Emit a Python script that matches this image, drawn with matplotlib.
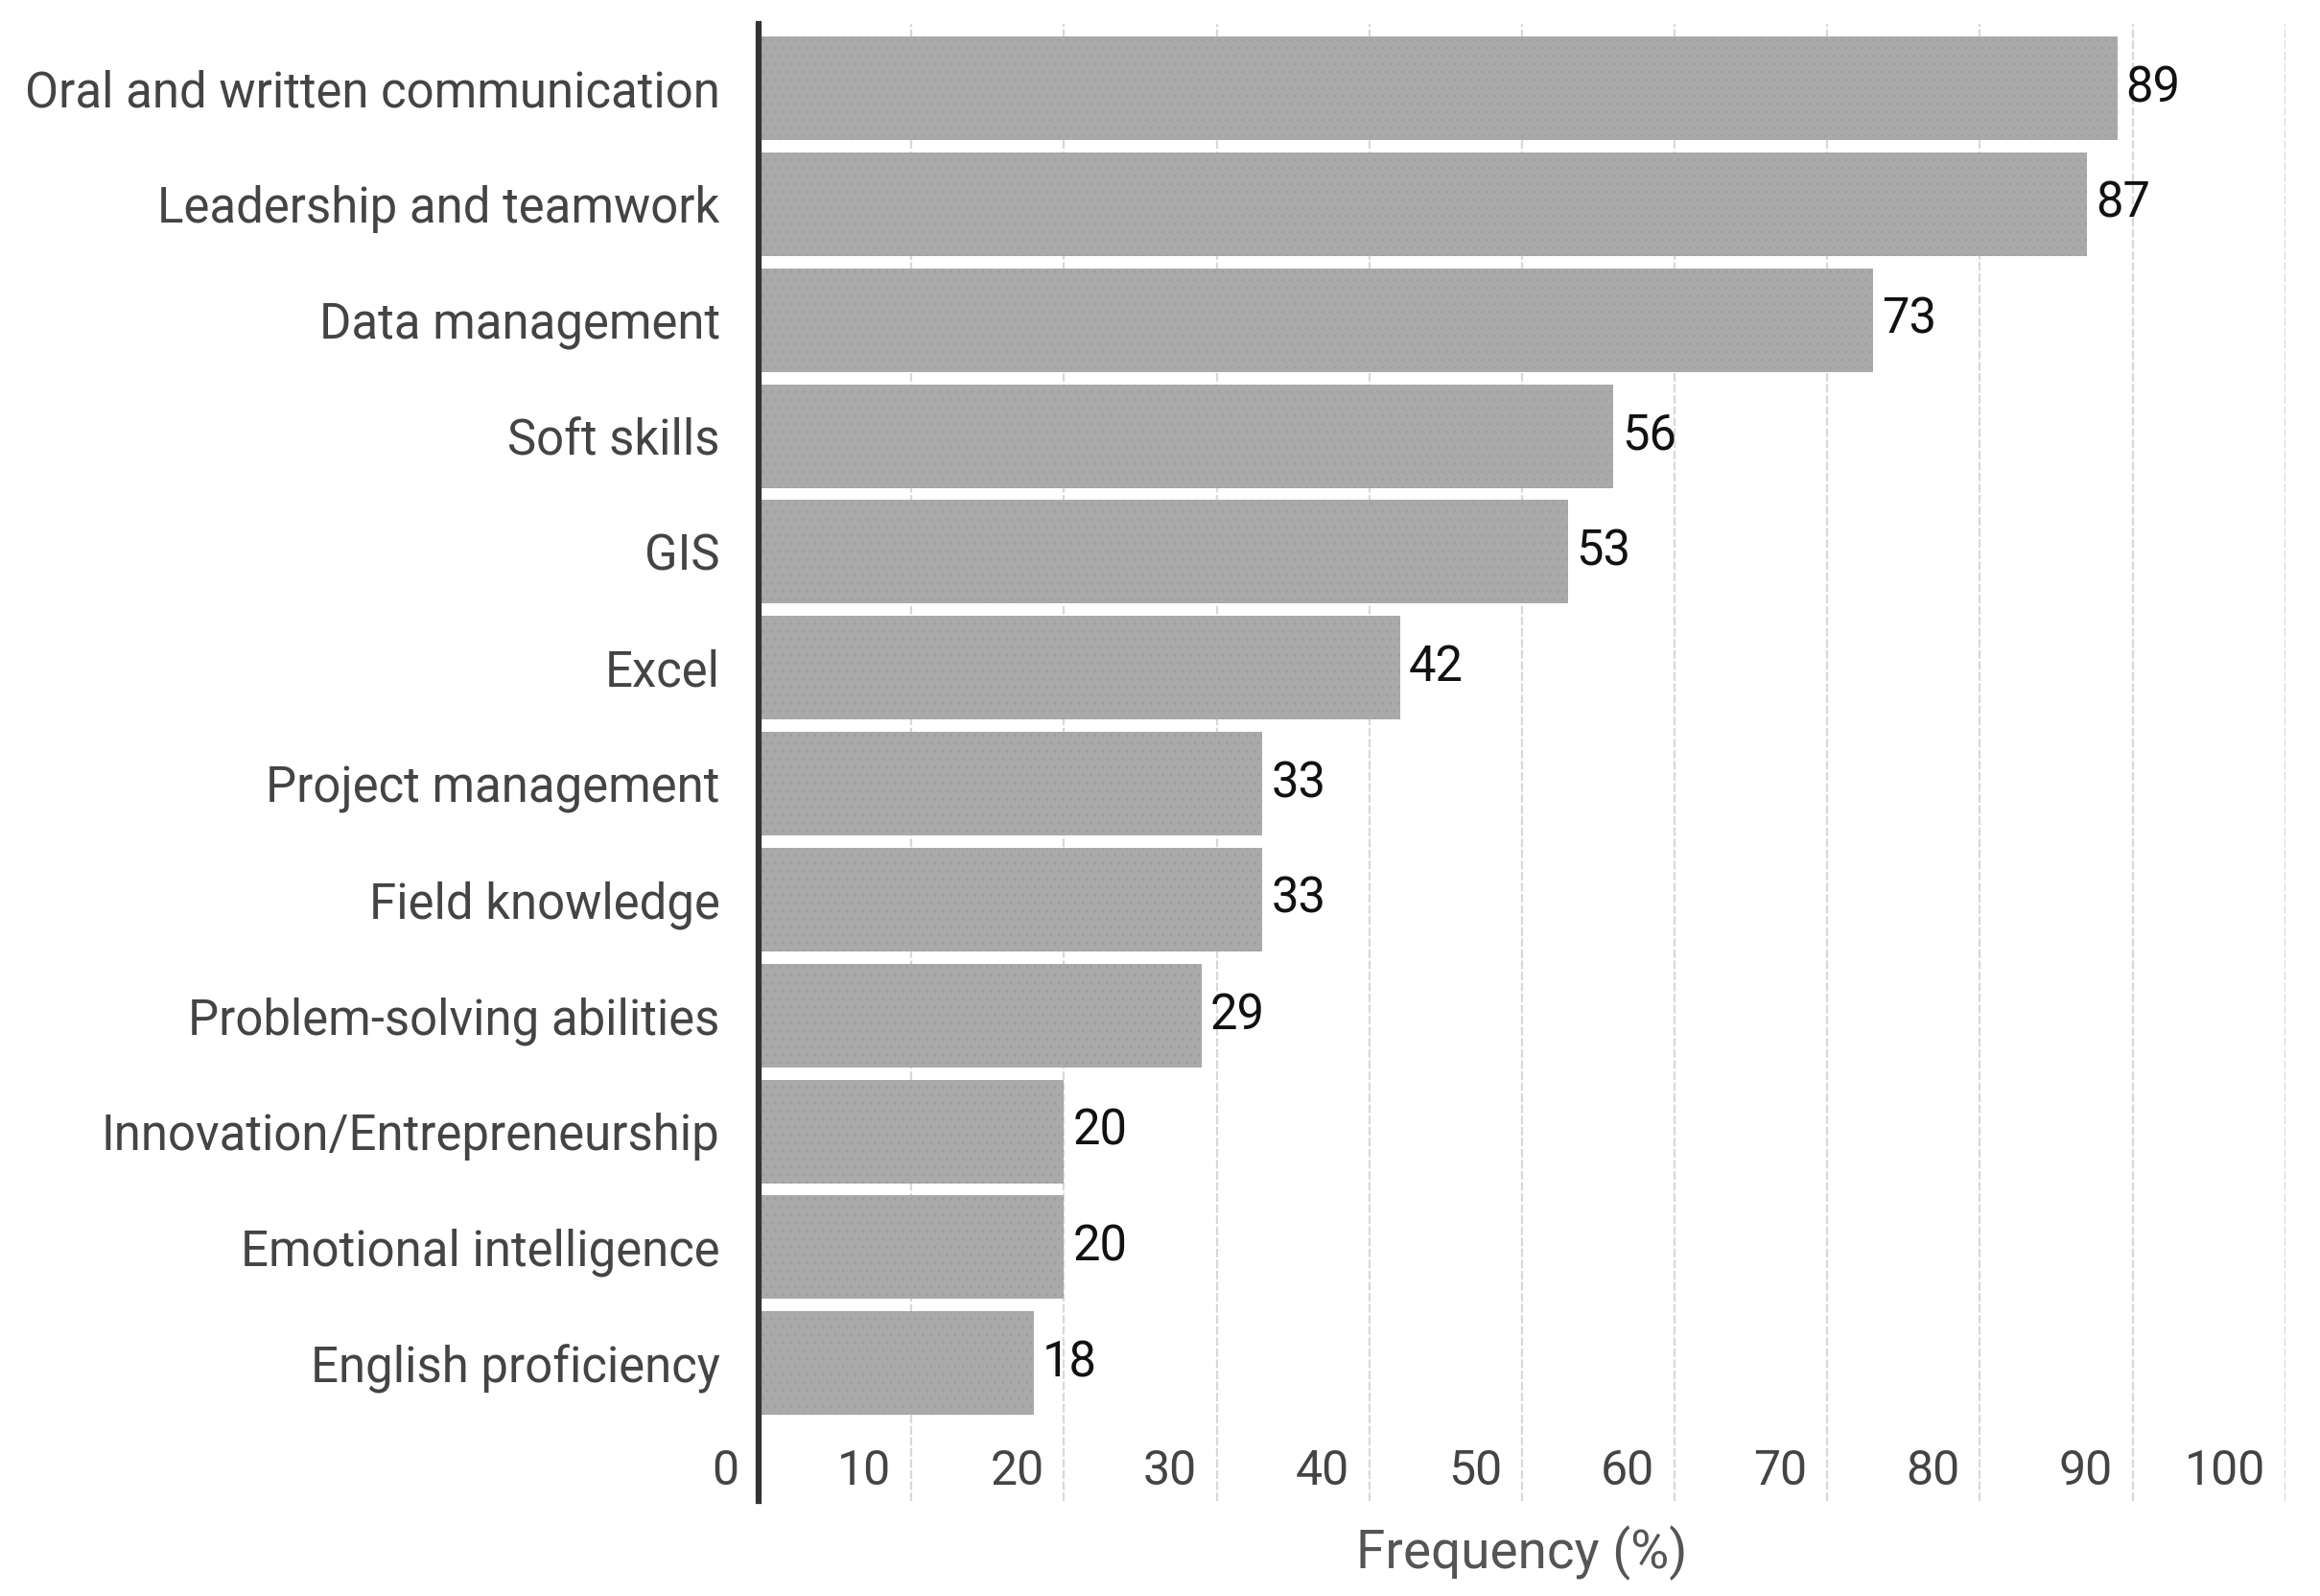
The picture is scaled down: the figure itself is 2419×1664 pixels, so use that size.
# Skills frequency - horizontal bar chart
import numpy as np
import matplotlib.pyplot as plt

# Data
skills = ['Oral and written communication', 'Leadership and teamwork', 'Data management',
          'Soft skills', 'GIS', 'Excel', 'Project management', 'Field knowledge',
          'Problem-solving abilities', 'Innovation/Entrepreneurship',
          'Emotional intelligence', 'English proficiency']
frequency = [89, 87, 73, 56, 53, 42, 33, 33, 29, 20, 20, 18]
x_ticks = [0, 10, 20, 30, 40, 50, 60, 70, 80, 90, 100]

plt.rcParams['font.family'] = ['Roboto', 'DejaVu Sans']
plt.rcParams['hatch.linewidth'] = 0.6

fig = plt.figure(figsize=(24.19, 16.64), dpi=100)
ax = fig.add_axes([0.327, 0.0595, 0.658, 0.9255])

pos = np.arange(len(skills))
bars = ax.barh(pos, frequency, height=0.894, color='#aaaaaa', edgecolor='#9d9d9d',
               linewidth=0, hatch='..', zorder=2)

# value labels at the end of each bar
for p, v in zip(pos, frequency):
    ax.annotate(str(v), (v, p), xytext=(6.5, 0), textcoords='offset points',
                ha='left', va='center', fontsize=36.5, color='#111111')

ax.set_xlim(0, 100)
ax.set_ylim(12.19, -0.555)

# category labels
ax.set_yticks(pos)
ax.set_yticklabels(skills, fontsize=36.6, color='#444444')
ax.tick_params(axis='y', length=0, pad=29)

# vertical grid lines, tick labels drawn inside the plot area
ax.set_xticks(x_ticks)
ax.tick_params(axis='x', length=0, labelbottom=False)
ax.grid(axis='x', color='#d8d8d8', linewidth=1.6, linestyle=(0, (4, 1.2)), zorder=0)
for t in x_ticks:
    ax.annotate(str(t), (t, 11.93), xytext=(-15, 0), textcoords='offset points',
                ha='right', va='center', fontsize=36, color='#444444')

for side in ['top', 'right', 'bottom']:
    ax.spines[side].set_visible(False)
ax.spines['left'].set_color('#333333')
ax.spines['left'].set_linewidth(4.5)
ax.spines['left'].set_zorder(3)

ax.set_xlabel('Frequency (%)', fontsize=39.5, color='#555555', labelpad=18)

plt.savefig('out.png', dpi=100)
